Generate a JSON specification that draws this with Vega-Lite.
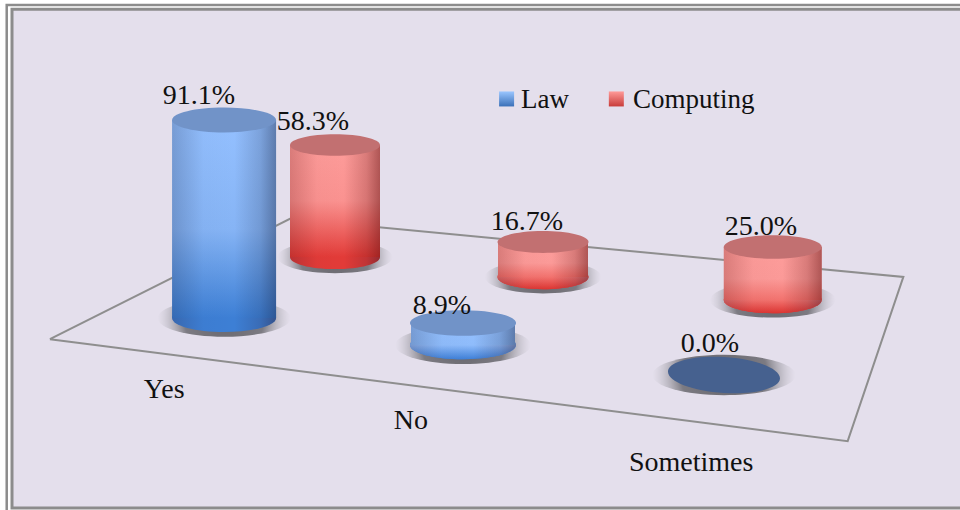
{
"$schema":"https://vega.github.io/schema/vega-lite/v6.json",
"width":960,"height":510,"padding":0,
"autosize":{"type":"fit","contains":"padding"},
"background":"#ffffff",
"view":{"stroke":null},
"config":{"axis":{"disable":true},"style":{"cell":{"stroke":null}}},
"datasets":{
"bars":[
{"category":"Yes","series":"Law","value":0.911,"slot":1,"floor":0.0938},
{"category":"Yes","series":"Computing","value":0.583,"slot":2,"floor":0.1526},
{"category":"No","series":"Law","value":0.089,"slot":3,"floor":0.0514},
{"category":"No","series":"Computing","value":0.167,"slot":4,"floor":0.1333},
{"category":"Sometimes","series":"Law","value":0.0,"slot":5,"floor":0.0},
{"category":"Sometimes","series":"Computing","value":0.25,"slot":6,"floor":0.1112}
],
"frame":[
{"name":"outer","left":0.7,"right":101,"top":99.0,"bottom":-1},
{"name":"inner","left":1.25,"right":101,"top":98.2,"bottom":0.4}
],
"plane":[
{"vertex":1,"across":5.2,"up":33.5},
{"vertex":2,"across":30.2,"up":57.1},
{"vertex":3,"across":94.1,"up":45.7},
{"vertex":4,"across":88.3,"up":13.5},
{"vertex":5,"across":5.2,"up":33.5}
],
"categories":[
{"category":"Yes","across":17.1,"up":23.5},
{"category":"No","across":42.8,"up":17.45},
{"category":"Sometimes","across":72.0,"up":9.2}
],
"swatches":[
{"series":"Law","across":52.77,"up":80.6},
{"series":"Computing","across":64.2,"up":80.6}
]
},
"resolve":{"scale":{"x":"independent","y":"independent"}},
"layer":[
{
"encoding":{
"x":{"field":"across","type":"quantitative","axis":null,"scale":{"domain":[0,100],"range":[0,960],"nice":false,"zero":false}},
"y":{"field":"up","type":"quantitative","axis":null,"scale":{"domain":[0,100],"range":[510,0],"nice":false,"zero":false}}
},
"layer":[
{"data":{"name":"frame"},"transform":[{"filter":"datum.name=='outer'"}],"mark":{"type":"rect","fill":"#ffffff","stroke":"#8c8c8c","strokeWidth":2.5},
"encoding":{"x":{"field":"left","type":"quantitative"},"x2":{"field":"right"},"y":{"field":"top","type":"quantitative"},"y2":{"field":"bottom"}}},
{"data":{"name":"frame"},"transform":[{"filter":"datum.name=='inner'"}],"mark":{"type":"rect","fill":"#e4dfec","stroke":"#8c8c8c","strokeWidth":3},
"encoding":{"x":{"field":"left","type":"quantitative"},"x2":{"field":"right"},"y":{"field":"top","type":"quantitative"},"y2":{"field":"bottom"}}},
{"data":{"name":"plane"},"mark":{"type":"line","stroke":"#8e8e8e","strokeWidth":2,"interpolate":"linear"},
"encoding":{"order":{"field":"vertex","type":"quantitative"}}},
{"data":{"name":"categories"},"mark":{"type":"text","font":"Liberation Serif","fontSize":28,"color":"#111111","align":"center","baseline":"middle"},
"encoding":{"text":{"field":"category","type":"nominal"}}},
{"data":{"name":"swatches"},"transform":[{"filter":"datum.series=='Law'"}],"mark":{"type":"square","size":225,"opacity":1,
"fill":{"gradient":"linear","x1":0,"x2":0,"y1":0,"y2":1,"stops":[{"offset":0,"color":"#9ac6ff"},{"offset":1,"color":"#3a70b8"}]}}},
{"data":{"name":"swatches"},"transform":[{"filter":"datum.series=='Computing'"}],"mark":{"type":"square","size":225,"opacity":1,
"fill":{"gradient":"linear","x1":0,"x2":0,"y1":0,"y2":1,"stops":[{"offset":0,"color":"#ff9a98"},{"offset":1,"color":"#c83c3a"}]}}}
]
},
{
"data":{"name":"bars"},
"encoding":{
"x":{"field":"slot","type":"quantitative","axis":null,"scale":{"domain":[1,2,3,4,5,6],"range":[219,335,463,543,724,775],"nice":false,"zero":false}},
"y":{"field":"value","type":"quantitative","axis":null,"scale":{"domain":[0,0.089,0.167,0.25,0.583,0.911],"range":[375,323,242,247,145,120],"nice":false,"zero":false}}
},
"layer":[
{"mark":{"type":"point","filled":true,"opacity":1,"shape":"M-1.28,0C-1.28,-.2 -.707,-.36 0,-.36C.707,-.36 1.28,-.2 1.28,0C1.28,.2 .707,.36 0,.36C-.707,.36 -1.28,.2 -1.28,0Z",
"fill":{"gradient":"radial","stops":[{"offset":0,"color":"rgba(70,70,75,0.8)"},{"offset":0.6,"color":"rgba(80,80,85,0.7)"},{"offset":1,"color":"rgba(170,170,175,0)"}]}},
"encoding":{"y":{"field":"floor","type":"quantitative"},
"size":{"field":"slot","type":"quantitative","legend":null,"scale":{"domain":[1,2,3,4,5,6],"range":[10816,8100,11236,8281,12544,9604],"zero":false,"nice":false}}}},
{"transform":[{"filter":"datum.value>0"}],"mark":{"type":"point","filled":true,"opacity":1,"shape":"M-1,0C-1,-.15 -.552,-.27 0,-.27C.552,-.27 1,-.15 1,0C1,.15 .552,.27 0,.27C-.552,.27 -1,.15 -1,0Z"},
"encoding":{"y":{"field":"floor","type":"quantitative"},"size":{"field":"slot","type":"quantitative","legend":null},
"color":{"field":"series","type":"nominal","scale":{"domain":["Law","Computing"],"range":["#3d7fd5","#e23b38"]},
"legend":{"title":null,"orient":"none","legendX":493,"legendY":86,"direction":"horizontal","columns":2,"symbolType":"square","symbolSize":225,"symbolStrokeWidth":0,"labelFont":"Liberation Serif","labelFontSize":27,"labelColor":"#111111","labelOffset":1,"columnPadding":36,"padding":0,
"symbolOpacity":0.001}}}},
{"transform":[{"filter":"datum.slot==3"}],"mark":{"type":"point","filled":true,"opacity":1,"shape":"M-1,0C-1,-.15 -.552,-.27 0,-.27C.552,-.27 1,-.15 1,0C1,.15 .552,.27 0,.27C-.552,.27 -1,.15 -1,0Z",
"fill":{"gradient":"linear","x1":0,"x2":0,"y1":0,"y2":1,"stops":[{"offset":0.5,"color":"#8fbcfb"},{"offset":1,"color":"#3f80d8"}]}},
"encoding":{"y":{"field":"floor","type":"quantitative"},"size":{"field":"slot","type":"quantitative","legend":null}}},
{"transform":[{"filter":"datum.slot==4 || datum.slot==6"}],"mark":{"type":"point","filled":true,"opacity":1,"shape":"M-1,0C-1,-.15 -.552,-.27 0,-.27C.552,-.27 1,-.15 1,0C1,.15 .552,.27 0,.27C-.552,.27 -1,.15 -1,0Z",
"fill":{"gradient":"linear","x1":0,"x2":0,"y1":0,"y2":1,"stops":[{"offset":0.5,"color":"#f2726e"},{"offset":1,"color":"#dc3532"}]}},
"encoding":{"y":{"field":"floor","type":"quantitative"},"size":{"field":"slot","type":"quantitative","legend":null}}},
{"transform":[{"filter":"datum.value>0"}],"mark":{"type":"point","filled":true,"opacity":1,"shape":"M-1,0C-1,-.15 -.552,-.27 0,-.27C.552,-.27 1,-.15 1,0C1,.15 .552,.27 0,.27C-.552,.27 -1,.15 -1,0Z",
"fill":{"gradient":"linear","x1":0,"x2":1,"y1":0,"y2":0,"stops":[{"offset":0,"color":"rgba(40,20,40,0.22)"},{"offset":0.3,"color":"rgba(40,20,40,0.02)"},{"offset":0.6,"color":"rgba(40,20,40,0)"},{"offset":0.85,"color":"rgba(40,20,40,0.18)"},{"offset":1,"color":"rgba(40,20,40,0.42)"}]}},
"encoding":{"y":{"field":"floor","type":"quantitative"},"size":{"field":"slot","type":"quantitative","legend":null}}},
{"transform":[{"filter":"datum.slot==1"}],"mark":{"type":"bar","size":104,"orient":"vertical",
"fill":{"gradient":"linear","x1":0,"x2":0,"y1":0,"y2":1,"stops":[{"offset":0,"color":"#94c0ff"},{"offset":0.55,"color":"#86b4f5"},{"offset":1,"color":"#3d7fd5"}]}},
"encoding":{"y2":{"field":"floor"}}},
{"transform":[{"filter":"datum.slot==3"}],"mark":{"type":"bar","size":104,"orient":"vertical",
"fill":{"gradient":"linear","x1":0,"x2":0,"y1":0,"y2":1,"stops":[{"offset":0,"color":"#94c0ff"},{"offset":1,"color":"#8fbcfb"}]}},
"encoding":{"y2":{"field":"floor"}}},
{"transform":[{"filter":"datum.slot==2"}],"mark":{"type":"bar","size":90,"orient":"vertical",
"fill":{"gradient":"linear","x1":0,"x2":0,"y1":0,"y2":1,"stops":[{"offset":0,"color":"#fd9c9a"},{"offset":0.5,"color":"#fa9290"},{"offset":1,"color":"#e23b38"}]}},
"encoding":{"y2":{"field":"floor"}}},
{"transform":[{"filter":"datum.slot==4"}],"mark":{"type":"bar","size":90,"orient":"vertical",
"fill":{"gradient":"linear","x1":0,"x2":0,"y1":0,"y2":1,"stops":[{"offset":0,"color":"#fd9c9a"},{"offset":0.6,"color":"#fb9a98"},{"offset":1,"color":"#f2726e"}]}},
"encoding":{"y2":{"field":"floor"}}},
{"transform":[{"filter":"datum.slot==6"}],"mark":{"type":"bar","size":98,"orient":"vertical",
"fill":{"gradient":"linear","x1":0,"x2":0,"y1":0,"y2":1,"stops":[{"offset":0,"color":"#fd9c9a"},{"offset":0.6,"color":"#fb9a98"},{"offset":1,"color":"#f2726e"}]}},
"encoding":{"y2":{"field":"floor"}}},
{"transform":[{"filter":"datum.slot==1 || datum.slot==3"}],"mark":{"type":"bar","size":104,"orient":"vertical",
"fill":{"gradient":"linear","x1":0,"x2":1,"y1":0,"y2":0,"stops":[{"offset":0,"color":"rgba(20,30,60,0.22)"},{"offset":0.3,"color":"rgba(20,30,60,0.02)"},{"offset":0.6,"color":"rgba(20,30,60,0)"},{"offset":0.85,"color":"rgba(20,30,60,0.18)"},{"offset":1,"color":"rgba(20,30,60,0.42)"}]}},
"encoding":{"y2":{"field":"floor"}}},
{"transform":[{"filter":"datum.slot==2 || datum.slot==4"}],"mark":{"type":"bar","size":90,"orient":"vertical",
"fill":{"gradient":"linear","x1":0,"x2":1,"y1":0,"y2":0,"stops":[{"offset":0,"color":"rgba(90,10,10,0.22)"},{"offset":0.3,"color":"rgba(90,10,10,0.02)"},{"offset":0.6,"color":"rgba(90,10,10,0)"},{"offset":0.85,"color":"rgba(90,10,10,0.22)"},{"offset":1,"color":"rgba(90,10,10,0.48)"}]}},
"encoding":{"y2":{"field":"floor"}}},
{"transform":[{"filter":"datum.slot==6"}],"mark":{"type":"bar","size":98,"orient":"vertical",
"fill":{"gradient":"linear","x1":0,"x2":1,"y1":0,"y2":0,"stops":[{"offset":0,"color":"rgba(90,10,10,0.22)"},{"offset":0.3,"color":"rgba(90,10,10,0.02)"},{"offset":0.6,"color":"rgba(90,10,10,0)"},{"offset":0.85,"color":"rgba(90,10,10,0.22)"},{"offset":1,"color":"rgba(90,10,10,0.48)"}]}},
"encoding":{"y2":{"field":"floor"}}},
{"transform":[{"filter":"datum.series=='Law' && datum.value>0"}],"mark":{"type":"point","filled":true,"opacity":1,"fill":"#7193c8","shape":"M-1,0C-1,-.133 -.552,-.24 0,-.24C.552,-.24 1,-.133 1,0C1,.133 .552,.24 0,.24C-.552,.24 -1,.133 -1,0Z"},
"encoding":{"size":{"field":"slot","type":"quantitative","legend":null}}},
{"transform":[{"filter":"datum.series=='Computing'"}],"mark":{"type":"point","filled":true,"opacity":1,"fill":"#c27071","shape":"M-1,0C-1,-.133 -.552,-.24 0,-.24C.552,-.24 1,-.133 1,0C1,.133 .552,.24 0,.24C-.552,.24 -1,.133 -1,0Z"},
"encoding":{"size":{"field":"slot","type":"quantitative","legend":null}}},
{"transform":[{"filter":"datum.value==0"}],"mark":{"type":"point","filled":true,"opacity":1,"fill":"#46618f","shape":"M-1,-.06C-1,-.237 -.552,-.353 0,-.32C.552,-.287 1,-.117 1,.06C1,.237 .552,.353 0,.32C-.552,.287 -1,.117 -1,-.06Z"},
"encoding":{"size":{"field":"slot","type":"quantitative","legend":null}}}
]
},
{
"data":{"name":"bars"},
"mark":{"type":"text","font":"Liberation Serif","fontSize":28,"color":"#111111","align":"center","baseline":"middle"},
"encoding":{
"x":{"field":"slot","type":"quantitative","axis":null,"scale":{"domain":[1,2,3,4,5,6],"range":[199,313,442,527,710,761],"nice":false,"zero":false}},
"y":{"field":"value","type":"quantitative","axis":null,"scale":{"domain":[0,0.089,0.167,0.25,0.583,0.911],"range":[344,306,222,227,122,96],"nice":false,"zero":false}},
"text":{"field":"value","type":"quantitative","format":".1%"}
}
}
]
}
